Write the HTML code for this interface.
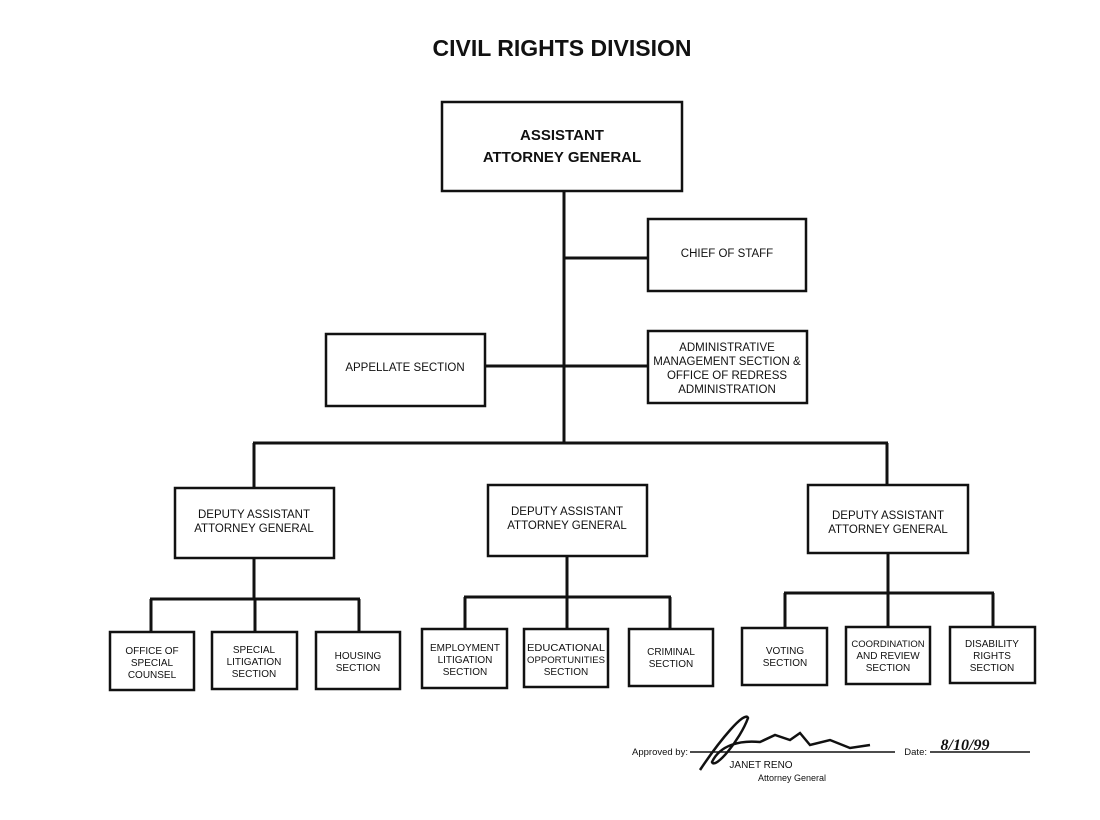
<!DOCTYPE html>
<html><head><meta charset="utf-8"><style>
html,body{margin:0;padding:0;background:#fff;}
svg{display:block;}
text{font-family:"Liberation Sans",Arial,sans-serif;fill:#111;text-anchor:middle;}
.s{font-size:10px;}
.m{font-size:11.5px;}
rect{fill:#fff;stroke:#111;stroke-width:2.5;}
line{stroke:#111;stroke-width:3;}
</style></head><body>
<svg width="1100" height="820" viewBox="0 0 1100 820">
<text x="562" y="56" style="font-size:23px;font-weight:bold">CIVIL RIGHTS DIVISION</text>
<line x1="564" y1="191" x2="564" y2="443"/>
<line x1="564" y1="258" x2="648" y2="258"/>
<line x1="485" y1="366" x2="648" y2="366"/>
<line x1="253" y1="443" x2="888" y2="443"/>
<line x1="254" y1="443" x2="254" y2="488"/>
<line x1="887" y1="443" x2="887" y2="485"/>
<line x1="254" y1="558" x2="254" y2="599"/>
<line x1="150" y1="599" x2="360" y2="599"/>
<line x1="151" y1="599" x2="151" y2="632"/>
<line x1="255" y1="599" x2="255" y2="632"/>
<line x1="359" y1="599" x2="359" y2="632"/>
<line x1="567" y1="556" x2="567" y2="597"/>
<line x1="464" y1="597" x2="671" y2="597"/>
<line x1="465" y1="597" x2="465" y2="629"/>
<line x1="567" y1="597" x2="567" y2="629"/>
<line x1="670" y1="597" x2="670" y2="629"/>
<line x1="888" y1="553" x2="888" y2="593"/>
<line x1="784" y1="593" x2="994" y2="593"/>
<line x1="785" y1="593" x2="785" y2="628"/>
<line x1="888" y1="593" x2="888" y2="627"/>
<line x1="993" y1="593" x2="993" y2="627"/>
<rect x="442" y="102" width="240" height="89"/>
<text x="562" y="140" style="font-size:15px;font-weight:bold">ASSISTANT</text>
<text x="562" y="162" style="font-size:15px;font-weight:bold">ATTORNEY GENERAL</text>
<rect x="648" y="219" width="158" height="72"/>
<text x="727" y="257" class="m">CHIEF OF STAFF</text>
<rect x="326" y="334" width="159" height="72"/>
<text x="405" y="371" class="m">APPELLATE SECTION</text>
<rect x="648" y="331" width="159" height="72"/>
<text x="727" y="351" class="m">ADMINISTRATIVE</text>
<text x="727" y="365" class="m">MANAGEMENT SECTION &amp;</text>
<text x="727" y="379" class="m">OFFICE OF REDRESS</text>
<text x="727" y="393" class="m">ADMINISTRATION</text>
<rect x="175" y="488" width="159" height="70"/>
<text x="254" y="518" class="m">DEPUTY ASSISTANT</text>
<text x="254" y="532" class="m">ATTORNEY GENERAL</text>
<rect x="488" y="485" width="159" height="71"/>
<text x="567" y="515" class="m">DEPUTY ASSISTANT</text>
<text x="567" y="529" class="m">ATTORNEY GENERAL</text>
<rect x="808" y="485" width="160" height="68"/>
<text x="888" y="519" class="m">DEPUTY ASSISTANT</text>
<text x="888" y="533" class="m">ATTORNEY GENERAL</text>
<rect x="110" y="632" width="84" height="58"/>
<text x="152" y="654" class="s">OFFICE OF</text><text x="152" y="666" class="s">SPECIAL</text><text x="152" y="678" class="s">COUNSEL</text>
<rect x="212" y="632" width="85" height="57"/>
<text x="254" y="653" class="s">SPECIAL</text><text x="254" y="665" class="s">LITIGATION</text><text x="254" y="677" class="s">SECTION</text>
<rect x="316" y="632" width="84" height="57"/>
<text x="358" y="659" class="s">HOUSING</text><text x="358" y="671" class="s">SECTION</text>
<rect x="422" y="629" width="85" height="59"/>
<text x="465" y="651" class="s">EMPLOYMENT</text><text x="465" y="663" class="s">LITIGATION</text><text x="465" y="675" class="s">SECTION</text>
<rect x="524" y="629" width="84" height="58"/>
<text x="566" y="651" class="s" textLength="78" lengthAdjust="spacingAndGlyphs">EDUCATIONAL</text><text x="566" y="663" class="s" textLength="78" lengthAdjust="spacingAndGlyphs" style="font-size:9.5px">OPPORTUNITIES</text><text x="566" y="675" class="s">SECTION</text>
<rect x="629" y="629" width="84" height="57"/>
<text x="671" y="655" class="s">CRIMINAL</text><text x="671" y="667" class="s">SECTION</text>
<rect x="742" y="628" width="85" height="57"/>
<text x="785" y="654" class="s">VOTING</text><text x="785" y="666" class="s">SECTION</text>
<rect x="846" y="627" width="84" height="57"/>
<text x="888" y="647" class="s" style="font-size:9.5px">COORDINATION</text><text x="888" y="659" class="s">AND REVIEW</text><text x="888" y="671" class="s">SECTION</text>
<rect x="950" y="627" width="85" height="56"/>
<text x="992" y="647" class="s">DISABILITY</text><text x="992" y="659" class="s">RIGHTS</text><text x="992" y="671" class="s">SECTION</text>
<text x="660" y="755" style="font-size:9.5px">Approved by:</text>
<line x1="690" y1="752" x2="895" y2="752" style="stroke-width:1.5"/>
<path d="M700 770 C720 740 745 710 748 718 C740 740 715 770 712 762 C720 745 740 740 760 742 L775 735 L790 740 L800 733 L810 745 L830 740 L850 748 L870 745" style="fill:none;stroke:#111;stroke-width:2.5"/>
<text x="927" y="755" style="font-size:9.5px;text-anchor:end">Date:</text>
<line x1="930" y1="752" x2="1030" y2="752" style="stroke-width:1.5"/>
<text x="965" y="750" style="font-size:16px;font-style:italic;font-weight:bold;font-family:'Liberation Serif',serif">8/10/99</text>
<text x="761" y="768" style="font-size:10px">JANET RENO</text>
<text x="792" y="781" style="font-size:9px">Attorney General</text>
</svg>
</body></html>
